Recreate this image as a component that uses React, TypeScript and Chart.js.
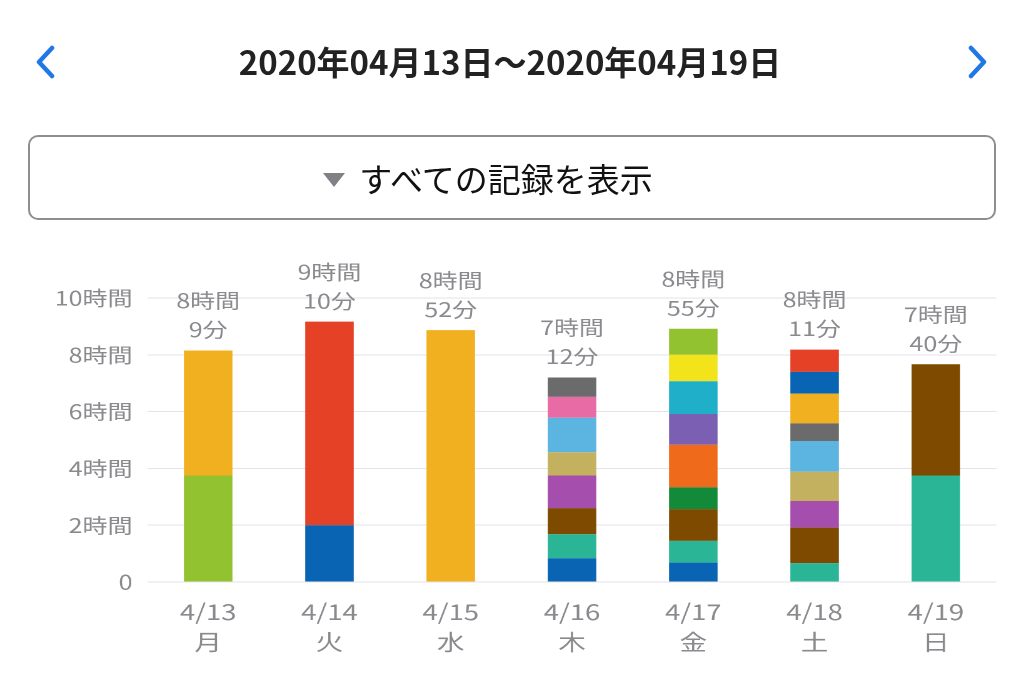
import React, { useEffect, useRef } from "react";
import { Chart, registerables } from "chart.js";

Chart.register(...registerables);

const dayLabels = ["4/13", "4/14", "4/15", "4/16", "4/17", "4/18", "4/19"];
const weekdays = ["月", "火", "水", "木", "金", "土", "日"];
const yTicks = [0, 120, 240, 360, 480, 600];

// minutes per activity per day (bottom to top)
const blue = [0, 120, 0, 50, 41, 0, 0];
const teal = [0, 0, 0, 51, 46, 40, 225];
const brown = [0, 0, 0, 55, 67, 75, 235];
const darkGreen = [0, 0, 0, 0, 46, 0, 0];
const purple = [0, 0, 0, 69, 0, 56, 0];
const khaki = [0, 0, 0, 49, 0, 62, 0];
const orange = [0, 0, 0, 0, 90, 0, 0];
const violet = [0, 0, 0, 0, 65, 0, 0];
const lightBlue = [0, 0, 0, 73, 0, 65, 0];
const pink = [0, 0, 0, 44, 0, 0, 0];
const cyan = [0, 0, 0, 0, 69, 0, 0];
const yellow = [0, 0, 0, 0, 56, 0, 0];
const gray = [0, 0, 0, 41, 0, 37, 0];
const green = [225, 0, 0, 0, 55, 0, 0];
const amber = [264, 0, 532, 0, 0, 63, 0];
const blue2 = [0, 0, 0, 0, 0, 46, 0];
const red = [0, 430, 0, 0, 0, 47, 0];

const series: [string, number[], string][] = [
  ["blue", blue, "#0a64b4"],
  ["teal", teal, "#2bb597"],
  ["brown", brown, "#7e4a00"],
  ["darkGreen", darkGreen, "#13893a"],
  ["purple", purple, "#a64eae"],
  ["khaki", khaki, "#c4b160"],
  ["orange", orange, "#ef6a1a"],
  ["violet", violet, "#7b5fb2"],
  ["lightBlue", lightBlue, "#5bb5e0"],
  ["pink", pink, "#e96ba6"],
  ["cyan", cyan, "#20afc8"],
  ["yellow", yellow, "#f3e31a"],
  ["gray", gray, "#6b6b6b"],
  ["green", green, "#92c230"],
  ["amber", amber, "#f0b01f"],
  ["blue2", blue2, "#0a64b4"],
  ["red", red, "#e54126"],
];

const FONT = '"Noto Sans CJK JP", "Noto Sans", sans-serif';
const GREY_TEXT = "#8a8a8e";
// the chart canvas is drawn horizontally stretched, as in the reference
const STRETCH = 1.25;
const CANVAS_W = Math.round(1024 / STRETCH);

const totalsPlugin = {
  id: "totals",
  afterDatasetsDraw(chart: any) {
    const { ctx } = chart;
    const xs = chart.scales.x;
    const ys = chart.scales.y;
    ctx.save();
    ctx.fillStyle = GREY_TEXT;
    ctx.font = `20px ${FONT}`;
    ctx.textAlign = "center";
    ctx.textBaseline = "middle";
    dayLabels.forEach((_, i) => {
      const total = series.reduce((s, d) => s + d[1][i], 0);
      const h = Math.floor(total / 60);
      const m = total % 60;
      const x = xs.getPixelForValue(i);
      const top = ys.getPixelForValue(total);
      ctx.fillText(`${m}分`, x, top - 21);
      ctx.fillText(`${h}時間`, x, top - 50);
    });
    ctx.restore();
  },
};

function Chevron({ left, dir }: { left: number; dir: "l" | "r" }) {
  const pts = dir === "l" ? "17,3 4,17 17,31" : "4,3 17,17 4,31";
  return (
    <svg width={22} height={34} style={{ position: "absolute", left, top: 45 }}>
      <polyline
        points={pts}
        fill="none"
        stroke="#1f78e6"
        strokeWidth={4.5}
        strokeLinecap="round"
        strokeLinejoin="round"
      />
    </svg>
  );
}

export default function App() {
  const ref = useRef<HTMLCanvasElement>(null);

  useEffect(() => {
    document.body.style.margin = "0";
    const chart = new Chart(ref.current!, {
      type: "bar",
      data: {
        labels: dayLabels.map((d, i) => [d, weekdays[i]]),
        datasets: series.map(([name, values, color]) => ({
          label: name,
          data: values,
          backgroundColor: color,
          borderWidth: 0,
          barPercentage: 0.4,
          categoryPercentage: 1,
        })),
      },
      options: {
        responsive: false,
        animation: false,
        devicePixelRatio: 2,
        layout: { padding: { top: 298, left: 0, right: 22, bottom: 0 } },
        plugins: {
          legend: { display: false },
          tooltip: { enabled: false },
        },
        scales: {
          x: {
            stacked: true,
            grid: { display: false },
            border: { display: false },
            ticks: {
              color: GREY_TEXT,
              font: { family: FONT, size: 22, lineHeight: 1.4 },
              padding: 6,
            },
            afterFit(scale: any) {
              scale.height = 93;
            },
          },
          y: {
            stacked: true,
            min: 0,
            max: 600,
            afterBuildTicks(scale: any) {
              scale.ticks = yTicks.map((v) => ({ value: v }));
            },
            grid: { color: "#e3e3e8", drawTicks: false, lineWidth: 1 },
            border: { display: false },
            ticks: {
              color: GREY_TEXT,
              font: { family: FONT, size: 20 },
              padding: 12,
              callback: (v: any) => (v === 0 ? "0" : `${v / 60}時間`),
            },
            afterFit(scale: any) {
              scale.width = 118;
            },
          },
        },
      },
      plugins: [totalsPlugin],
    });
    return () => chart.destroy();
  }, []);

  return (
    <div
      style={{
        position: "absolute",
        left: 0,
        top: 0,
        width: 1024,
        height: 675,
        background: "#fff",
        overflow: "hidden",
        fontFamily: FONT,
      }}
    >
      <canvas
        ref={ref}
        width={CANVAS_W}
        height={675}
        style={{ position: "absolute", left: 0, top: 0, width: "1024px", height: "675px" }}
      />
      <Chevron left={35} dir="l" />
      <Chevron left={967} dir="r" />
      <div
        style={{
          position: "absolute",
          left: 0,
          width: 1020,
          top: 38,
          textAlign: "center",
          fontSize: 33,
          fontWeight: 700,
          color: "#222",
          lineHeight: "46px",
        }}
      >
        2020年04月13日～2020年04月19日
      </div>
      <div
        style={{
          position: "absolute",
          left: 28,
          top: 135,
          width: 916,
          height: 81,
          border: "2px solid #8e8e8e",
          borderRadius: 10,
          display: "flex",
          alignItems: "center",
          justifyContent: "center",
          color: "#111",
          fontSize: 33,
          paddingRight: 48,
          boxSizing: "content-box",
        }}
      >
        <span
          style={{
            width: 0,
            height: 0,
            borderLeft: "11.5px solid transparent",
            borderRight: "11.5px solid transparent",
            borderTop: "14px solid #808085",
            marginRight: 14,
            marginTop: 4,
          }}
        />
        <span>すべての記録を表示</span>
      </div>
    </div>
  );
}
